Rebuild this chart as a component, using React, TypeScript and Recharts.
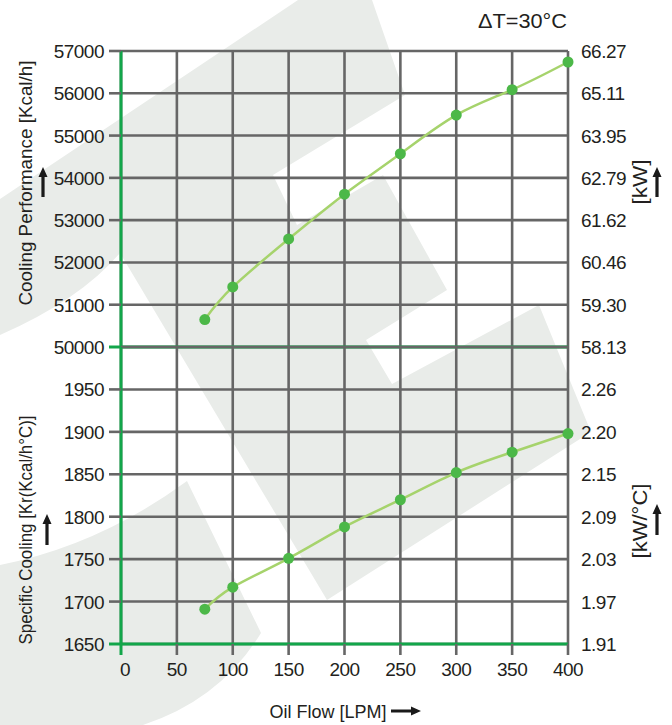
import { LineChart, Line, XAxis, YAxis, CartesianGrid, ReferenceLine } from 'recharts';

const flow = [75, 100, 150, 200, 250, 300, 350, 400];
const coolingKcal = [50650, 51420, 52555, 53615, 54570, 55485, 56085, 56740];
const specificKr = [1691, 1717, 1751, 1788, 1820, 1852, 1876, 1898];

const flowTicks = [0, 50, 100, 150, 200, 250, 300, 350, 400];
const kcalTicks = [50000, 51000, 52000, 53000, 54000, 55000, 56000, 57000];
const kwLabels = ['58.13', '59.30', '60.46', '61.62', '62.79', '63.95', '65.11', '66.27'];
const krTicks = [1650, 1700, 1750, 1800, 1850, 1900, 1950];
const kwcLabels = ['1.91', '1.97', '2.03', '2.09', '2.15', '2.20', '2.26'];

const W = 672;
const H = 725;
const GRID = '#666666';
const GREEN = '#12a64a';
const LINE = '#a6d36c';
const DOT = '#4cb848';
const TEXT = '#231f20';
const WATERMARK = '#e9ece9';
const SANS = "'Liberation Sans', Arial, sans-serif";
const FS = 19;
const LS = -0.5;

const topData = flow.map((f, i) => ({ flow: f, kcal: coolingKcal[i] }));
const bottomData = flow.map((f, i) => ({ flow: f, kr: specificKr[i] }));

function leftTick(greenValue: number) {
  return (props: any) => {
    const { x, y, payload } = props;
    const col = payload.value === greenValue ? GREEN : GRID;
    return (
      <g>
        <line x1={x + 5} x2={x + 17} y1={y} y2={y} stroke={col} strokeWidth={col === GREEN ? 3 : 2.6} />
        <text x={x} y={y + 7} textAnchor="end" fontFamily={SANS} fontSize={FS} fill={TEXT} letterSpacing={LS}>
          {payload.value}
        </text>
      </g>
    );
  };
}

function rightTick(ticks: number[], labels: string[]) {
  return (props: any) => {
    const { x, y, payload } = props;
    const i = ticks.indexOf(Number(payload.value));
    return (
      <text x={x} y={y + 7} textAnchor="start" fontFamily={SANS} fontSize={FS} fill={TEXT} letterSpacing={LS}>
        {i >= 0 ? labels[i] : ''}
      </text>
    );
  };
}

const bottomTick = (props: any) => {
  const { x, y, payload } = props;
  const isZero = payload.value === 0;
  const col = isZero ? GREEN : GRID;
  return (
    <g>
      <line x1={x} x2={x} y1={y - 15} y2={y - 4} stroke={col} strokeWidth={isZero ? 3 : 2.6} />
      <text x={isZero ? x + 4 : x} y={y + 17} textAnchor="middle" fontFamily={SANS} fontSize={FS} fill={TEXT} letterSpacing={LS}>
        {payload.value}
      </text>
    </g>
  );
};

function UpArrow({ x, top, bottom }: { x: number; top: number; bottom: number }) {
  const d = `M${x},${top} L${x + 4.5},${top + 10} L${x + 1.6},${top + 10} L${x + 1.6},${bottom} L${x - 1.6},${bottom} L${x - 1.6},${top + 10} L${x - 4.5},${top + 10} Z`;
  return <path d={d} fill="#1a1a1a" />;
}

function RightArrow({ y, left, right }: { y: number; left: number; right: number }) {
  const d = `M${right},${y} L${right - 10},${y - 4.5} L${right - 10},${y - 1.6} L${left},${y - 1.6} L${left},${y + 1.6} L${right - 10},${y + 1.6} L${right - 10},${y + 4.5} Z`;
  return <path d={d} fill="#1a1a1a" />;
}

export default function App() {
  return (
    <div style={{ position: 'absolute', left: 0, top: 0, width: W, height: H, background: '#fff' }}>
      {/* faded logo behind the chart */}
      <svg width={W} height={H} style={{ position: 'absolute', left: 0, top: 0 }}>
        <path
          d="M0,199 L298,0 L372,0 L405,95 L273,175 L297,225 L383,175 L447,290 L366,340 L392,384 L539,305 L591,432 L327,600 L120,253 Q80,300 0,335 Z"
          fill={WATERMARK}
        />
        <path d="M0,565 Q100,545 187,481 L261,633 Q220,700 143,725 L0,725 Z" fill={WATERMARK} />
      </svg>

      <div style={{ position: 'absolute', left: 0, top: 0 }}>
        <LineChart width={W} height={H} data={topData} margin={{ top: 51, right: 0, bottom: H - 347, left: 0 }}>
          <CartesianGrid yAxisId="l" stroke={GRID} strokeWidth={2.6} />
          <XAxis dataKey="flow" type="number" domain={[0, 400]} ticks={flowTicks} hide />
          <YAxis
            yAxisId="l"
            type="number"
            domain={[50000, 57000]}
            ticks={kcalTicks}
            width={121}
            axisLine={false}
            tickLine={false}
            tickSize={12}
            tickMargin={5}
            tick={leftTick(50000)}
            interval={0}
          />
          <YAxis
            yAxisId="r"
            orientation="right"
            type="number"
            domain={[50000, 57000]}
            ticks={kcalTicks}
            width={W - 568}
            axisLine={false}
            tickLine={false}
            tickSize={8}
            tickMargin={5}
            tick={rightTick(kcalTicks, kwLabels)}
            interval={0}
          />
          <ReferenceLine yAxisId="l" y={50000} stroke={GREEN} strokeWidth={3} />
          <ReferenceLine yAxisId="l" x={0} stroke={GREEN} strokeWidth={3} />
          <Line
            yAxisId="r"
            type="natural"
            dataKey="kcal"
            stroke="none"
            dot={false}
            activeDot={false}
            legendType="none"
            isAnimationActive={false}
          />
          <Line
            yAxisId="l"
            type="natural"
            dataKey="kcal"
            stroke={LINE}
            strokeWidth={2.5}
            dot={{ r: 5.5, fill: DOT, stroke: 'none' }}
            isAnimationActive={false}
          />
        </LineChart>
      </div>

      <div style={{ position: 'absolute', left: 0, top: 0 }}>
        <LineChart width={W} height={H} data={bottomData} margin={{ top: 347, right: 0, bottom: 41, left: 0 }}>
          <CartesianGrid yAxisId="l" stroke={GRID} strokeWidth={2.6} />
          <XAxis
            dataKey="flow"
            type="number"
            domain={[0, 400]}
            ticks={flowTicks}
            height={40}
            axisLine={false}
            tickLine={false}
            tickSize={11}
            tickMargin={4}
            tick={bottomTick}
            interval={0}
          />
          <YAxis
            yAxisId="l"
            type="number"
            domain={[1650, 2000]}
            ticks={krTicks}
            width={121}
            axisLine={false}
            tickLine={false}
            tickSize={12}
            tickMargin={5}
            tick={leftTick(1650)}
            interval={0}
          />
          <YAxis
            yAxisId="r"
            orientation="right"
            type="number"
            domain={[1650, 2000]}
            ticks={krTicks}
            width={W - 568}
            axisLine={false}
            tickLine={false}
            tickSize={8}
            tickMargin={5}
            tick={rightTick(krTicks, kwcLabels)}
            interval={0}
          />
          <ReferenceLine yAxisId="l" y={1650} stroke={GREEN} strokeWidth={3} />
          <ReferenceLine yAxisId="l" x={0} stroke={GREEN} strokeWidth={3} />
          <Line
            yAxisId="r"
            type="natural"
            dataKey="kr"
            stroke="none"
            dot={false}
            activeDot={false}
            legendType="none"
            isAnimationActive={false}
          />
          <Line
            yAxisId="l"
            type="natural"
            dataKey="kr"
            stroke={LINE}
            strokeWidth={2.5}
            dot={{ r: 5.5, fill: DOT, stroke: 'none' }}
            isAnimationActive={false}
          />
        </LineChart>
      </div>

      {/* titles, units and arrows */}
      <svg width={W} height={H} style={{ position: 'absolute', left: 0, top: 0, pointerEvents: 'none' }}>
        <text x={567} y={28} textAnchor="end" fontFamily={SANS} fontSize={20.5} fill={TEXT} textLength={89} lengthAdjust="spacingAndGlyphs">
          ΔT=30°C
        </text>
        <text
          transform="translate(32,183) rotate(-90)"
          textAnchor="middle"
          fontFamily={SANS}
          fontSize={FS}
          fill={TEXT}
          textLength={245}
          lengthAdjust="spacingAndGlyphs"
        >
          Cooling Performance [Kcal/h]
        </text>
        <UpArrow x={43} top={167} bottom={197} />
        <text
          transform="translate(32,530) rotate(-90)"
          textAnchor="middle"
          fontFamily={SANS}
          fontSize={FS}
          fill={TEXT}
          textLength={229}
          lengthAdjust="spacingAndGlyphs"
        >
          Specific Cooling [Kr(Kcal/h°C)]
        </text>
        <UpArrow x={47} top={514} bottom={545} />
        <text
          transform="translate(647,182) rotate(-90)"
          textAnchor="middle"
          fontFamily={SANS}
          fontSize={20}
          fill={TEXT}
          textLength={45}
          lengthAdjust="spacingAndGlyphs"
        >
          [kW]
        </text>
        <UpArrow x={657} top={167} bottom={197} />
        <text
          transform="translate(647,521) rotate(-90)"
          textAnchor="middle"
          fontFamily={SANS}
          fontSize={20}
          fill={TEXT}
          textLength={75}
          lengthAdjust="spacingAndGlyphs"
        >
          [kW/°C]
        </text>
        <UpArrow x={657} top={504} bottom={535} />
        <text x={328} y={718} textAnchor="middle" fontFamily={SANS} fontSize={FS} fill={TEXT} textLength={117} lengthAdjust="spacingAndGlyphs">
          Oil Flow [LPM]
        </text>
        <RightArrow y={711} left={391} right={421} />
      </svg>
    </div>
  );
}
